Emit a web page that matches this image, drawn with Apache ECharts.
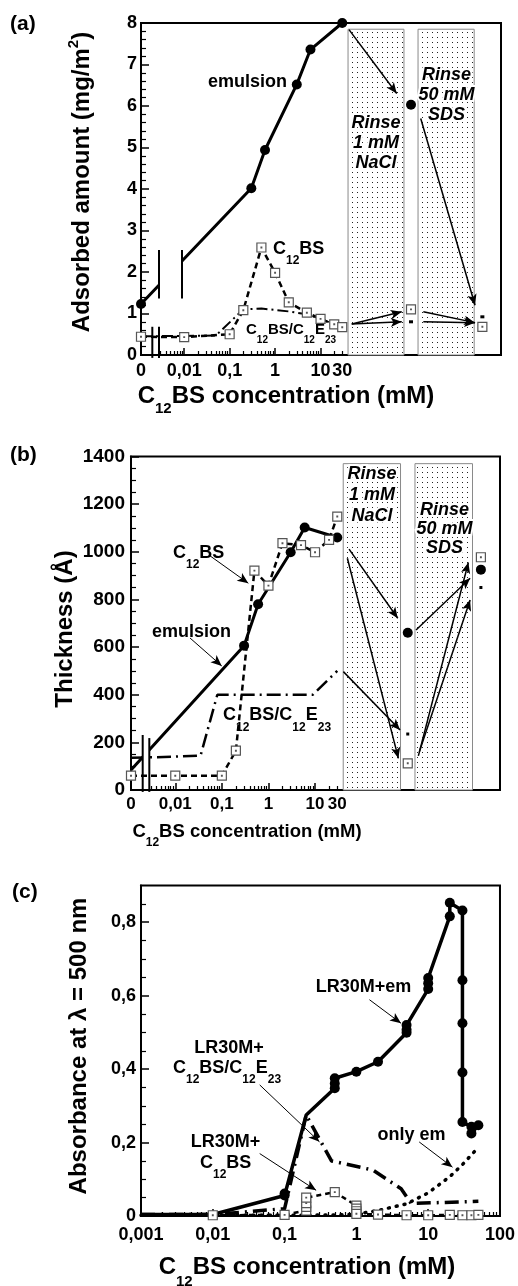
<!DOCTYPE html>
<html>
<head>
<meta charset="utf-8">
<script src="https://cdn.jsdelivr.net/npm/echarts@6/dist/echarts.min.js"></script>
<style>
  html, body { margin: 0; padding: 0; background: #fff; }
  #chart { width: 518px; height: 1286px; }
</style>
</head>
<body>
<div id="chart"></div>
<script>
// ---------- (a) adsorbed amount, mg/m2, vs C12BS concentration (mM) ----------
const concA_emulsion = [0, 0.3, 0.6, 3, 6, 30];
const adsA_emulsion  = [1.23, 4.02, 4.94, 6.52, 7.36, 8.0];
const concA_c12bs    = [0, 0.01, 0.1, 0.2, 0.5, 1, 2, 5, 10, 20, 30];
const adsA_c12bs     = [0.44, 0.43, 0.5, 1.08, 2.59, 1.98, 1.27, 1.02, 0.87, 0.74, 0.67];
const concA_mix      = [0, 0.01, 0.05, 0.2, 0.5, 2, 5, 10, 20, 30];
const adsA_mix       = [0.45, 0.46, 0.47, 1.1, 1.12, 1.05, 0.98, 0.87, 0.74, 0.67];
// after rinsing: [1 mM NaCl, 50 mM SDS]
const rinseA_emulsion = [6.03, null];
const rinseA_c12bs    = [1.1, 0.68];
const rinseA_mix      = [0.8, 0.92];

// ---------- (b) layer thickness, Å ----------
const concB_emulsion = [0, 0.3, 0.6, 3, 6, 30];
const thkB_emulsion  = [84, 606, 780, 998, 1102, 1060];
const concB_c12bs    = [0, 0.01, 0.1, 0.2, 0.5, 1, 2, 5, 10, 20, 30];
const thkB_c12bs     = [60, 60, 60, 165, 921, 858, 1036, 1028, 998, 1050, 1148];
const concB_mix      = [0, 0.01, 0.035, 0.08, 9, 30];
const thkB_mix       = [135, 140, 145, 400, 400, 500];
const rinseB_emulsion = [660, 925];
const rinseB_c12bs    = [112, 977];
const rinseB_mix      = [235, 850];

// ---------- (c) absorbance at 500 nm ----------
const concC_em = [0.001, 0.01, 0.1, 0.1, 0.2, 0.5, 0.5, 0.5, 1, 2, 5, 5, 5, 10, 10, 10, 20, 20, 30, 30, 30, 30, 30, 40, 50, 40];
const absC_em  = [0.004, 0.004, 0.056, 0.061, 0.275, 0.348, 0.361, 0.375, 0.393, 0.42, 0.499, 0.507, 0.52, 0.618, 0.634, 0.648, 0.816, 0.853, 0.832, 0.642, 0.525, 0.391, 0.256, 0.243, 0.247, 0.225];
const concC_c12bs = [0.01, 0.1, 0.2, 0.2, 0.2, 0.2, 0.5, 1, 1, 1, 1, 2, 5, 10, 20, 30, 40, 50];
const absC_c12bs  = [0.002, 0.003, 0.015, 0.025, 0.035, 0.05, 0.065, 0.028, 0.02, 0.013, 0.006, 0.004, 0.002, 0.002, 0.003, 0.002, 0.002, 0.003];
const concC_mix = [0.001, 0.01, 0.1, 0.2, 0.45, 1.7, 4.2, 5.8, 50];
const absC_mix  = [0.004, 0.004, 0.02, 0.275, 0.15, 0.125, 0.074, 0.034, 0.04];
const concC_only = [0.001, 0.01, 0.1, 0.5, 1, 2, 5, 10, 20, 30, 50];
const absC_only  = [0.002, 0.002, 0.002, 0.003, 0.005, 0.015, 0.033, 0.063, 0.107, 0.14, 0.187];

// tick labels
const xLabelsAB = [0, 0.01, 0.1, 1, 10, 30];
const yLabelsC  = [0, 0.2, 0.4, 0.6, 0.8];

// ---------- broken concentration axis (decade units) ----------
const U0 = -2.95, UMAX = 4.97;          // "0" sits at the left end
const RINSE_U = [2.99, 4.56];           // rinse stages to the right of 30 mM
const RINSE_BOXES = [[1.605, 2.835], [3.145, 4.38]];
const toU = c => c === 0 ? U0 : Math.log10(c);

// marks without a symbol
const UNMARKED_B_EM = [0];
const UNMARKED_C_EM = [0.001, 0.01, 0.2];

// arrows (axis units)
const ARROWS_A = [
  [[1.626, 7.84], [2.676, 6.30]], [[3.204, 5.70], [4.399, 1.20]],
  [[1.686, 0.746], [2.786, 1.04]], [[1.686, 0.746], [2.786, 0.80]],
  [[3.261, 1.04], [4.399, 0.78]], [[3.261, 0.80], [4.399, 0.78]]
];
const ARROWS_B = [
  [[1.730, 1011], [2.776, 721]], [[1.694, 973], [2.789, 133]], [[1.608, 497], [2.825, 252]],
  [[3.168, 672], [4.328, 889]], [[3.218, 143], [4.291, 955]], [[3.239, 161], [4.328, 798]]
];
const LABEL_ARROWS_B = [[[-1.254, 983], [-0.432, 868]], [[-1.683, 638], [-1.003, 521]]];
const LABEL_ARROWS_C = [
  [[1.52, 0.589], [4.18, 0.525]], [[0.045, 0.357], [0.306, 0.202]],
  [[0.045, 0.170], [0.275, 0.070]], [[7.5, 0.2016], [21.8, 0.133]]
];
// axis breaks: [u1, u2, lo1, hi1, lo2, hi2, whiteLo, whiteHi]
const BREAKS_A = [[-2.554, -2.048, 1.36, 2.53, 1.36, 2.53, 1.36, 2.53], [-2.701, -2.554, -0.07, 0.68, -0.07, 0.68, 0, 0]];
const BREAKS_B = [[-2.699, -2.557, -8, 231, -8, 218, 95, 232]];

const FONT = '"Liberation Sans", Arial, Helvetica, sans-serif';
const fmt = c => String(c).replace('.', ',');

const DOTS = (() => {
  const cv = document.createElement('canvas');
  cv.width = 5; cv.height = 5;
  const g = cv.getContext('2d');
  g.fillStyle = '#fff'; g.fillRect(0, 0, 5, 5);
  g.fillStyle = '#222'; g.fillRect(2, 2, 1, 1);
  return cv;
})();

const SQUARE = 'path://M0,0H10V10H0Z M4.6,4.6H5.4V5.4H4.6Z';
const squareStyle = { color: '#fff', borderColor: '#555', borderWidth: 1.2, opacity: 1 };
const solidBlack = { color: '#000', opacity: 1 };

function brokenPts(xs, ys, unmarked) {
  return xs.map((c, i) => {
    const p = [toU(c), ys[i]];
    return unmarked && unmarked.includes(i) ? { value: p, symbol: 'none' } : p;
  });
}
function logPts(xs, ys, unmarked) {
  return xs.map((c, i) => {
    const p = [c, ys[i]];
    return unmarked && unmarked.includes(c) ? { value: p, symbol: 'none' } : p;
  });
}
const rinsePts = ys => ys.map((v, i) => v == null ? null : [RINSE_U[i], v]).filter(Boolean);

// ---------- axes ----------
const tickLine = w => ({ color: '#000', width: w });
function brokenXAxes(gridIndex, margin, fontSize) {
  const labelU = xLabelsAB.map(toU);
  const minorU = [];
  for (let d = -3; d <= 1; d++) {
    for (let k = 2; k <= 9; k++) {
      const u = d + Math.log10(k);
      if (u > -2.54 && u < 1.6) minorU.push(u);
    }
  }
  return [{
    type: 'value', gridIndex, min: U0, max: UMAX, position: 'bottom',
    axisLine: { show: true, onZero: false, lineStyle: tickLine(2) },
    axisTick: { show: true, inside: true, length: 7, customValues: [-2, -1, 0, 1], lineStyle: tickLine(1.5) },
    axisLabel: {
      show: true, customValues: labelU, margin, fontSize, fontWeight: 'bold', color: '#000', fontFamily: FONT,
      formatter: v => {
        let best = 0;
        labelU.forEach((u, i) => { if (Math.abs(u - v) < Math.abs(labelU[best] - v)) best = i; });
        return fmt(xLabelsAB[best]);
      }
    },
    splitLine: { show: false }
  }, {
    type: 'value', gridIndex, min: U0, max: UMAX, position: 'bottom',
    axisLine: { show: false, onZero: false },
    axisTick: { show: true, inside: true, length: 4, customValues: minorU, lineStyle: tickLine(1.2) },
    axisLabel: { show: false }, splitLine: { show: false }
  }];
}

const cMinor = [];
for (let d = -3; d <= 1; d++) for (let k = 2; k <= 9; k++) cMinor.push(d + Math.log10(k));
const yMinorC = [];
for (let i = 1; i <= 17; i++) if (i % 4 !== 0) yMinorC.push(+(i * 0.05).toFixed(2));

const xAxes = [
  ...brokenXAxes(0, 7, 18),
  ...brokenXAxes(1, 6, 17),
  {
    type: 'log', logBase: 10, gridIndex: 2, min: 0.001, max: 100, position: 'bottom',
    axisLine: { show: true, onZero: false, lineStyle: tickLine(2) },
    axisTick: { show: true, inside: true, length: 7, lineStyle: tickLine(1.5) },
    axisLabel: { margin: 10, fontSize: 18, fontWeight: 'bold', color: '#000', fontFamily: FONT,
      formatter: v => fmt(+Number(v).toPrecision(1)) },
    splitLine: { show: false }, minorTick: { show: false }
  },
  {
    type: 'value', gridIndex: 2, min: -3, max: 2, position: 'bottom',
    axisLine: { show: false, onZero: false },
    axisTick: { show: true, inside: true, length: 4, customValues: cMinor, lineStyle: tickLine(1.2) },
    axisLabel: { show: false }, splitLine: { show: false }
  }
];

const yBase = (gridIndex, min, max, interval, split, margin, fontSize) => ({
  type: 'value', gridIndex, min, max, interval, position: 'left',
  axisLine: { show: true, onZero: false, lineStyle: tickLine(2) },
  axisTick: { show: true, inside: true, length: 8, lineStyle: tickLine(1.5) },
  minorTick: { show: true, splitNumber: split, length: 5, lineStyle: tickLine(1.2) },
  axisLabel: { margin, fontSize, fontWeight: 'bold', color: '#000', fontFamily: FONT, formatter: v => fmt(v) },
  splitLine: { show: false }, minorSplitLine: { show: false }
});
const yAxes = [
  yBase(0, 0, 8, 1, 5, 4, 18),
  yBase(1, 0, 1400, 200, 4, 6, 19),
  {
    type: 'value', gridIndex: 2, min: 0, max: 0.9, position: 'left',
    axisLine: { show: true, onZero: false, lineStyle: tickLine(2) },
    axisTick: { show: true, inside: true, length: 8, customValues: yLabelsC, lineStyle: tickLine(1.5) },
    axisLabel: { customValues: yLabelsC, margin: 5, fontSize: 18, fontWeight: 'bold', color: '#000', fontFamily: FONT,
      formatter: v => fmt(+Number(v).toFixed(1)) },
    splitLine: { show: false }
  },
  {
    type: 'value', gridIndex: 2, min: 0, max: 0.9, position: 'left',
    axisLine: { show: false, onZero: false },
    axisTick: { show: true, inside: true, length: 5, customValues: yMinorC, lineStyle: tickLine(1.2) },
    axisLabel: { show: false }, splitLine: { show: false }
  }
];

// ---------- series helpers ----------
function boxSeries(xi, yi, top) {
  return {
    type: 'custom', xAxisIndex: xi, yAxisIndex: yi, z: 1, silent: true, clip: false,
    data: RINSE_BOXES.map(b => [b[0], b[1], top]),
    renderItem: (params, api) => {
      const p1 = api.coord([api.value(0), api.value(2)]);
      const p2 = api.coord([api.value(1), 0]);
      return { type: 'rect', shape: { x: p1[0], y: p1[1], width: p2[0] - p1[0], height: p2[1] - p1[1] },
        style: { fill: { image: DOTS, repeat: 'repeat' }, stroke: '#8a8a8a', lineWidth: 1 } };
    }
  };
}
function breakSeries(xi, yi, data) {
  return {
    type: 'custom', xAxisIndex: xi, yAxisIndex: yi, z: 8, silent: true, clip: false, data,
    renderItem: (params, api) => {
      const u1 = api.value(0), u2 = api.value(1);
      const a = api.coord([u1, api.value(2)]), b = api.coord([u1, api.value(3)]);
      const c = api.coord([u2, api.value(4)]), d = api.coord([u2, api.value(5)]);
      const children = [];
      if (api.value(6) !== api.value(7)) {
        const w1 = api.coord([u1, api.value(7)]), w2 = api.coord([u2, api.value(6)]);
        children.push({ type: 'rect', shape: { x: w1[0], y: w1[1], width: w2[0] - w1[0], height: w2[1] - w1[1] }, style: { fill: '#fff' } });
      }
      children.push({ type: 'line', shape: { x1: a[0], y1: a[1], x2: b[0], y2: b[1] }, style: { stroke: '#000', lineWidth: 2 } });
      children.push({ type: 'line', shape: { x1: c[0], y1: c[1], x2: d[0], y2: d[1] }, style: { stroke: '#000', lineWidth: 2 } });
      return { type: 'group', children };
    }
  };
}
function arrowSeries(xi, yi, arrows, width) {
  return {
    type: 'line', xAxisIndex: xi, yAxisIndex: yi, data: [], z: 6, silent: true,
    markLine: {
      silent: true, animation: false, symbol: ['none', 'arrow'], symbolSize: [7, 11],
      label: { show: false }, lineStyle: { color: '#000', width, type: 'solid' },
      emphasis: { disabled: true },
      data: arrows.map(([p, q]) => [{ coord: p }, { coord: q }])
    }
  };
}
const circleLine = (xi, yi, data, width) => ({
  type: 'line', xAxisIndex: xi, yAxisIndex: yi, data, z: 3, silent: true,
  symbol: 'circle', symbolSize: 10, showAllSymbol: true,
  itemStyle: solidBlack, lineStyle: { color: '#000', width, type: 'solid' }
});
const squareLine = (xi, yi, data, width, dash) => ({
  type: 'line', xAxisIndex: xi, yAxisIndex: yi, data, z: 4, silent: true,
  symbol: SQUARE, symbolSize: 9, showAllSymbol: true,
  itemStyle: squareStyle, lineStyle: { color: '#000', width, type: dash }
});
const plainLine = (xi, yi, data, width, dash, cap) => ({
  type: 'line', xAxisIndex: xi, yAxisIndex: yi, data, z: 3, silent: true,
  symbol: 'none', lineStyle: { color: '#000', width, type: dash, cap: cap || 'butt' }
});
const scatter = (xi, yi, data, symbol, size, style) => ({
  type: 'scatter', xAxisIndex: xi, yAxisIndex: yi, data, z: 5, silent: true,
  symbol, symbolSize: size, itemStyle: style
});

const DASH = [6, 4];
const DASHDOT = [11, 4, 2, 4];

const series = [
  // (a)
  boxSeries(0, 0, 7.85),
  plainLine(0, 0, brokenPts(concA_mix, adsA_mix), 2, DASHDOT),
  squareLine(0, 0, brokenPts(concA_c12bs, adsA_c12bs), 2.5, DASH),
  circleLine(0, 0, brokenPts(concA_emulsion, adsA_emulsion), 3),
  scatter(0, 0, rinsePts(rinseA_emulsion), 'circle', 10, solidBlack),
  scatter(0, 0, rinsePts(rinseA_c12bs), SQUARE, 9, squareStyle),
  scatter(0, 0, rinsePts(rinseA_mix), 'rect', [4, 3], solidBlack),
  arrowSeries(0, 0, ARROWS_A, 1.5),
  breakSeries(0, 0, BREAKS_A),
  // (b)
  boxSeries(2, 1, 1370),
  plainLine(2, 1, brokenPts(concB_mix, thkB_mix), 2.5, [14, 5, 2, 5]),
  squareLine(2, 1, brokenPts(concB_c12bs, thkB_c12bs), 2.5, DASH),
  circleLine(2, 1, brokenPts(concB_emulsion, thkB_emulsion, UNMARKED_B_EM), 3),
  scatter(2, 1, rinsePts(rinseB_emulsion), 'circle', 10, solidBlack),
  scatter(2, 1, rinsePts(rinseB_c12bs), SQUARE, 9, squareStyle),
  scatter(2, 1, rinsePts(rinseB_mix), 'rect', [3, 3], solidBlack),
  arrowSeries(2, 1, ARROWS_B, 1.5),
  arrowSeries(2, 1, LABEL_ARROWS_B, 1),
  breakSeries(2, 1, BREAKS_B),
  // (c)
  plainLine(4, 2, logPts(concC_only, absC_only), 3.5, [1, 7], 'round'),
  plainLine(4, 2, logPts(concC_mix, absC_mix), 3.5, [14, 6, 2, 6]),
  squareLine(4, 2, logPts(concC_c12bs, absC_c12bs), 2.5, [5, 4]),
  circleLine(4, 2, logPts(concC_em, absC_em, UNMARKED_C_EM), 3.5),
  arrowSeries(4, 2, LABEL_ARROWS_C, 1)
];

// ---------- texts ----------
const richSet = (size, sub, drop) => ({
  m: { fontSize: size, fontWeight: 'bold', fontFamily: FONT, lineHeight: size },
  s: { fontSize: sub, fontWeight: 'bold', fontFamily: FONT, lineHeight: sub, padding: [2 * drop, 0, 0, 0] },
  p: { fontSize: sub, fontWeight: 'bold', fontFamily: FONT, lineHeight: sub, padding: [0, 0, 2 * drop, 0] }
});
function txt(x, y, text, size, opt) {
  opt = opt || {};
  const align = opt.align || 'center';
  const style = {
    text, fill: '#000', font: `${opt.italic ? 'italic ' : ''}bold ${size}px ${FONT}`,
    align, textAlign: align, verticalAlign: 'middle', textVerticalAlign: 'middle'
  };
  if (opt.rich) style.rich = opt.rich;
  if (opt.lineHeight) style.lineHeight = opt.lineHeight;
  if (opt.halo) { style.stroke = '#fff'; style.lineWidth = opt.halo; }
  const el = { type: 'text', x, y, z: 100, silent: true, style };
  if (opt.rotate) el.rotation = Math.PI / 2;
  return el;
}
const C12BS = '{m|C}{s|12}{m|BS}';
const MIX = '{m|C}{s|12}{m|BS/C}{s|12}{m|E}{s|23}';
const XTITLE = '{m|C}{s|12}{m|BS concentration (mM)}';
const rinseNaCl = 'Rinse\n1 mM\nNaCl';
const rinseSDS = 'Rinse\n50 mM\nSDS';

const graphics = [
  // panel letters
  txt(10, 24, '(a)', 21, { align: 'left' }),
  txt(10, 455, '(b)', 21, { align: 'left' }),
  txt(12, 892, '(c)', 21, { align: 'left' }),
  // axis titles
  txt(286, 396, XTITLE, 24, { rich: richSet(24, 15, 13) }),
  txt(82, 182, '{m|Adsorbed amount (mg/m}{p|2}{m|)}', 24, { rotate: true, rich: richSet(24, 15, 8) }),
  txt(247, 832, XTITLE, 18.5, { rich: richSet(18.5, 12, 11) }),
  txt(65, 629, 'Thickness (Å)', 24, { rotate: true }),
  txt(307, 1267, XTITLE, 24, { rich: richSet(24, 15, 15) }),
  txt(79, 1046, 'Absorbance at λ = 500 nm', 24, { rotate: true }),
  // rinse boxes
  txt(376, 143.5, rinseNaCl, 18, { italic: true, lineHeight: 20, halo: 4 }),
  txt(446.5, 95, rinseSDS, 18, { italic: true, lineHeight: 20, halo: 4 }),
  txt(372, 495.5, rinseNaCl, 18, { italic: true, lineHeight: 21, halo: 4 }),
  txt(444.5, 529, rinseSDS, 18, { italic: true, lineHeight: 19, halo: 4 }),
  // (a) curve labels
  txt(247.5, 82, 'emulsion', 18),
  txt(273, 249, C12BS, 18, { align: 'left', rich: richSet(18, 12, 12) }),
  txt(246, 330, MIX, 15, { align: 'left', rich: richSet(15, 10, 10) }),
  // (b) curve labels
  txt(173, 553, C12BS, 18, { align: 'left', rich: richSet(18, 12, 12) }),
  txt(191.5, 632, 'emulsion', 18),
  txt(223, 715, MIX, 18, { align: 'left', rich: richSet(18, 12, 13) }),
  // (c) curve labels
  txt(363.5, 987, 'LR30M+em', 18),
  txt(229, 1048, 'LR30M+', 18),
  txt(173, 1068, MIX, 18, { align: 'left', rich: richSet(18, 12, 12) }),
  txt(225.5, 1142, 'LR30M+', 18),
  txt(200, 1163, C12BS, 18, { align: 'left', rich: richSet(18, 12, 12) }),
  txt(411.5, 1135, 'only em', 18)
];

const gridBox = (left, top, width, height) => ({
  left, top, width, height, show: true, borderColor: '#000', borderWidth: 2,
  backgroundColor: 'transparent', containLabel: false
});

const chart = echarts.init(document.getElementById('chart'), null, { renderer: 'canvas' });
chart.setOption({
  animation: false,
  backgroundColor: '#fff',
  textStyle: { fontFamily: FONT },
  grid: [
    gridBox(141, 23, 360, 332),
    gridBox(131, 456.5, 369, 333.5),
    gridBox(141, 885.5, 360, 330.5)
  ],
  xAxis: xAxes,
  yAxis: yAxes,
  series,
  graphic: { elements: graphics }
});
</script>
</body>
</html>
